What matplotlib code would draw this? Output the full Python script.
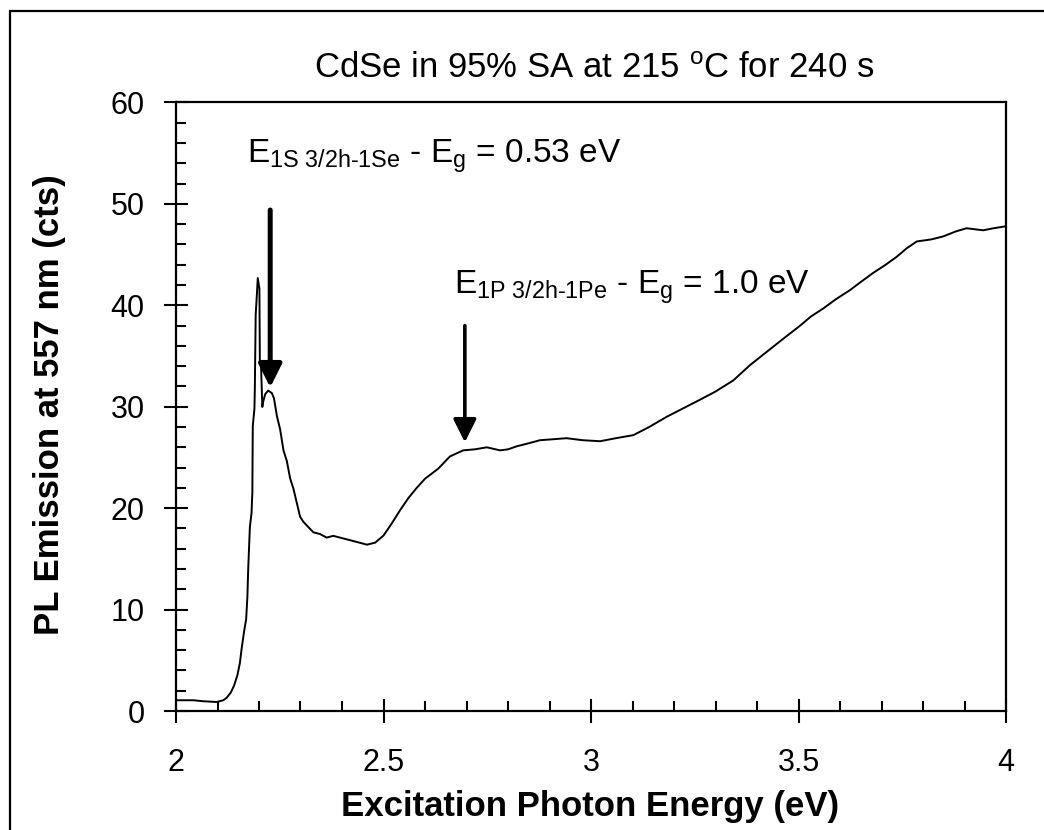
import matplotlib
matplotlib.use("Agg")
import matplotlib.pyplot as plt
from matplotlib.patches import Rectangle
from matplotlib.ticker import MultipleLocator

plt.rcParams['font.family'] = ['Liberation Sans', 'DejaVu Sans']
plt.rcParams['mathtext.fontset'] = 'custom'
plt.rcParams['mathtext.rm'] = 'Liberation Sans'
plt.rcParams['mathtext.it'] = 'Liberation Sans:italic'
plt.rcParams['mathtext.bf'] = 'Liberation Sans:bold'

# ---- data ----
energy = [2.000, 2.042, 2.066, 2.098, 2.114, 2.122, 2.132, 2.140, 2.148, 2.154,
          2.158, 2.164, 2.169, 2.172, 2.174, 2.178, 2.182, 2.184, 2.185, 2.189,
          2.190, 2.192, 2.195, 2.197, 2.201, 2.202, 2.205, 2.208, 2.210, 2.215,
          2.222, 2.231, 2.236, 2.243, 2.251, 2.259, 2.267, 2.275, 2.283, 2.291,
          2.299, 2.307, 2.319, 2.331, 2.347, 2.363, 2.379, 2.395, 2.411, 2.427,
          2.443, 2.46, 2.48, 2.50, 2.52, 2.54, 2.56, 2.58, 2.60, 2.632,
          2.66, 2.692, 2.72, 2.749, 2.781, 2.80, 2.821, 2.85, 2.877, 2.91,
          2.941, 2.98, 3.022, 3.06, 3.102, 3.14, 3.182, 3.22, 3.263, 3.30,
          3.343, 3.383, 3.423, 3.46, 3.504, 3.53, 3.56, 3.59, 3.624, 3.65,
          3.680, 3.71, 3.737, 3.76, 3.785, 3.82, 3.849, 3.88, 3.905, 3.945,
          3.97, 4.0]
pl = [1.06, 1.06, 0.96, 0.89, 1.06, 1.30, 1.82, 2.51, 3.54, 4.74,
      6.11, 7.83, 9.03, 11.26, 14.01, 18.13, 19.51, 21.57, 28.09, 29.81,
      31.87, 39.08, 41.14, 42.69, 41.66, 34.62, 33.93, 29.98, 30.49, 31.25,
      31.59, 31.35, 30.84, 29.12, 27.75, 25.69, 24.66, 22.94, 21.91, 20.54,
      19.16, 18.65, 18.13, 17.62, 17.45, 17.10, 17.27, 17.10, 16.93, 16.76,
      16.59, 16.4, 16.6, 17.3, 18.5, 19.8, 21.0, 22.0, 22.9, 23.9,
      25.1, 25.7, 25.8, 26.0, 25.7, 25.8, 26.1, 26.4, 26.7, 26.8,
      26.9, 26.7, 26.6, 26.9, 27.2, 28.0, 29.0, 29.8, 30.7, 31.5,
      32.6, 34.1, 35.4, 36.6, 38.0, 38.9, 39.7, 40.6, 41.5, 42.3,
      43.2, 44.0, 44.8, 45.6, 46.3, 46.5, 46.8, 47.3, 47.6, 47.4,
      47.6, 47.8]

title = "CdSe in 95% SA at 215 $^{\\rm o}$C for 240 s"
xlabel = "Excitation Photon Energy (eV)"
ylabel = "PL Emission at 557 nm (cts)"
label1 = "E$_{\\rm 1S\\ 3/2h\u20101Se}$ - E$_{\\rm g}$ = 0.53 eV"
label2 = "E$_{\\rm 1P\\ 3/2h\u20101Pe}$ - E$_{\\rm g}$ = 1.0 eV"
arrow1 = (2.227, 49.4, 31.9)   # x, y_start, y_tip
arrow2 = (2.696, 38.0, 26.5)

fig = plt.figure(figsize=(10.44, 8.30), dpi=100)
ax = fig.add_axes([176/1044, 1-711/830, (1006-176)/1044, (711-102.5)/830])

ax.plot(energy, pl, color='black', lw=1.4)

ax.set_xlim(2, 4)
ax.set_ylim(0, 60)
ax.xaxis.set_major_locator(MultipleLocator(0.5))
ax.xaxis.set_minor_locator(MultipleLocator(0.1))
ax.yaxis.set_major_locator(MultipleLocator(10))
ax.yaxis.set_minor_locator(MultipleLocator(2))
ax.set_xticks([2, 2.5, 3, 3.5, 4])
ax.set_xticklabels(['2', '2.5', '3', '3.5', '4'])

ax.tick_params(axis='both', which='major', direction='inout', length=17,
               width=1.5, labelsize=22)
ax.tick_params(axis='both', which='minor', direction='in', length=7, width=1.5)
ax.tick_params(axis='x', which='major', pad=18)
ax.tick_params(axis='y', which='major', pad=14)
for s in ax.spines.values():
    s.set_linewidth(1.6)

fig.text(590/1044, 1-806/830, xlabel, fontsize=25, fontweight='bold',
         ha='center', va='center')
fig.text(50/1044, 1-405/830, ylabel, fontsize=25, fontweight='bold',
         ha='center', va='center', rotation=90)

fig.text(594/1044, 1-68/830, title, fontsize=25, ha='center', va='center')

ax.text(2.172, 54.1, label1, fontsize=24, ha='left', va='baseline')
ax.text(2.670, 41.2, label2, fontsize=24, ha='left', va='baseline')

for (x, y0, y1), lw in ((arrow1, 3.6), (arrow2, 2.6)):
    ax.annotate('', xy=(x, y1), xytext=(x, y0),
                arrowprops=dict(arrowstyle='-|>,head_length=0.7,head_width=0.35',
                                mutation_scale=20, lw=lw, color='black',
                                shrinkA=0, shrinkB=0))

fig.patches.append(Rectangle((10/1044, -0.1), 2, 1 - 11/830 + 0.1,
                             transform=fig.transFigure, fill=False,
                             lw=1.6, edgecolor='black'))

fig.savefig('out.png', dpi=100)
